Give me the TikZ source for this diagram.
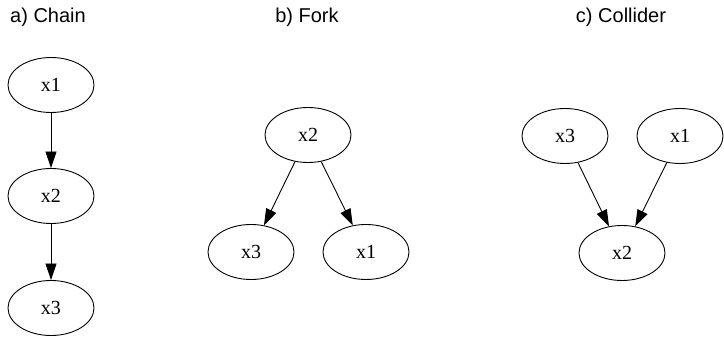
\documentclass[tikz,border=0pt]{standalone}
\usepackage{fontspec}
\setmainfont{Liberation Serif}
\newfontfamily\titlefont{Liberation Sans}
\usetikzlibrary{arrows.meta,shapes.geometric}
\begin{document}
\begin{tikzpicture}[x=1pt,y=-1pt,
  var/.style={ellipse,draw,line width=0.9pt,minimum width=86pt,minimum height=55pt,inner sep=0pt,font=\fontsize{20}{24}\selectfont},
  edge/.style={-{Triangle[length=16.5pt,width=11pt]},line width=0.9pt},
  ttl/.style={font=\titlefont\fontsize{20}{24}\selectfont,inner sep=0pt}]
\useasboundingbox (0,0) rectangle (724,339);
% titles
\node[ttl,anchor=west] (ta) at (10,17) {a) Chain};
\node[ttl] (tb) at (307,17) {b) Fork};
\node[ttl] (tc) at (621,17) {c) Collider};
% chain
\node[var] (a1) at (51,85) {x1};
\node[var] (a2) at (51,196) {x2};
\node[var] (a3) at (51,308) {x3};
\draw[edge] (a1) -- (a2);
\draw[edge] (a2) -- (a3);
% fork
\node[var] (b2) at (308,135) {x2};
\node[var] (b3) at (251,252) {x3};
\node[var] (b1) at (366,252) {x1};
\draw[edge] (b2) -- (b3);
\draw[edge] (b2) -- (b1);
% collider
\node[var] (c3) at (565,136) {x3};
\node[var] (c1) at (680,136) {x1};
\node[var] (c2) at (622,253) {x2};
\draw[edge] (c3) -- (c2);
\draw[edge] (c1) -- (c2);
\end{tikzpicture}
\end{document}
